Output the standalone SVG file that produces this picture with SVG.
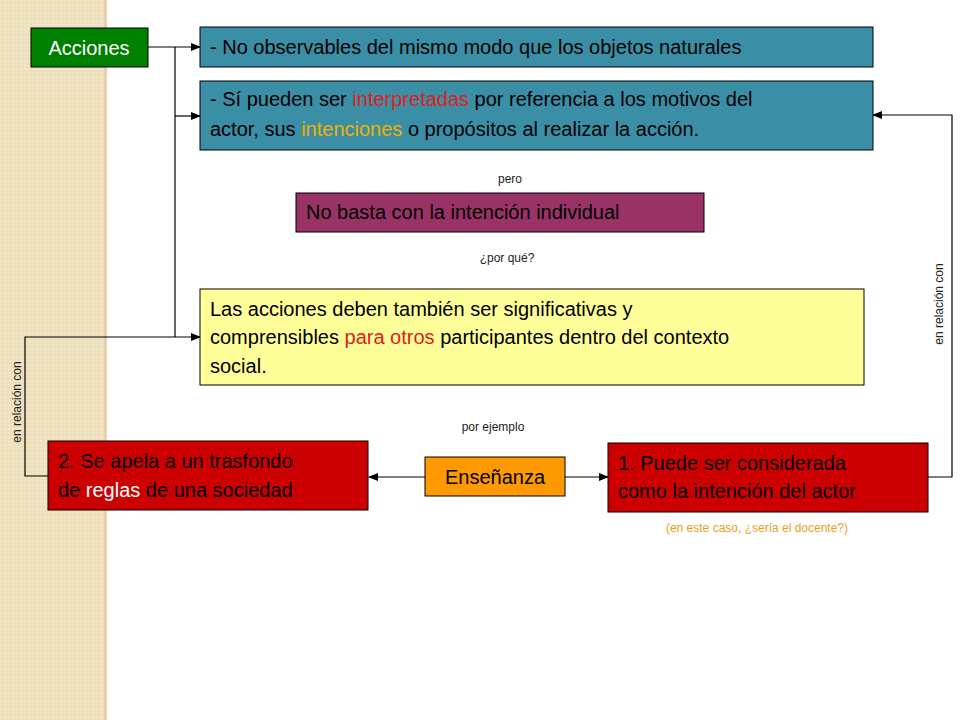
<svg xmlns="http://www.w3.org/2000/svg" width="960" height="720" viewBox="0 0 960 720">
<style>
text{font-family:"Liberation Sans",Arial,sans-serif;}
.big{font-size:20px;fill:#000;}
.sm{font-size:12px;fill:#222;}
.box{stroke:#000;stroke-width:1;}
.ln{fill:none;stroke:#000;stroke-width:1.2;}
</style>
<defs>
<marker id="ah" markerWidth="10" markerHeight="8" refX="9" refY="4" orient="auto" markerUnits="userSpaceOnUse"><path d="M0,0 L10,4 L0,8 z" fill="#000"/></marker>
<pattern id="tex" width="4" height="4" patternUnits="userSpaceOnUse"><rect width="4" height="4" fill="#eedfbd"/><rect width="2" height="2" fill="#f3e7ca"/></pattern>
</defs>
<rect width="960" height="720" fill="#fff"/>
<rect x="0" y="0" width="107" height="720" fill="url(#tex)"/>
<rect x="104" y="0" width="3" height="720" fill="#e3d2ad"/>
<g id="connectors">
<path class="ln" d="M148,47 H200" marker-end="url(#ah)"/>
<path class="ln" d="M175,47 V337"/>
<path class="ln" d="M175,116 H200" marker-end="url(#ah)"/>
<path class="ln" d="M48,476 H25 V337 H200" marker-end="url(#ah)"/>
<path class="ln" d="M928,477 H952 V115 H873" marker-end="url(#ah)"/>
<path class="ln" d="M425,477 H369" marker-end="url(#ah)"/>
<path class="ln" d="M565,477 H608" marker-end="url(#ah)"/>
</g>
<g id="acciones"><rect class="box" x="31" y="28" width="117" height="39" fill="#008000"/><text x="89" y="55" class="big" fill="#fff" style="fill:#fff" text-anchor="middle">Acciones</text></g>
<g id="noobs"><rect class="box" x="200" y="27" width="673" height="40" fill="#31849b" style="fill:#3a8ea5"/><text x="210" y="54" class="big">- No observables del mismo modo que los objetos naturales</text></g>
<g id="si"><rect class="box" x="200" y="81" width="673" height="69" fill="#3a8ea5"/>
<text x="210" y="106" class="big">- Sí pueden ser <tspan fill="#e02020">interpretadas</tspan> por referencia a los motivos del</text>
<text x="210" y="136" class="big">actor, sus <tspan fill="#f0b000">intenciones</tspan> o propósitos al realizar la acción.</text></g>
<text x="510" y="183" class="sm" text-anchor="middle">pero</text>
<g id="nobasta"><rect class="box" x="296" y="193" width="408" height="39" fill="#993366"/><text x="306" y="219" class="big">No basta con la intención individual</text></g>
<text x="507" y="262" class="sm" text-anchor="middle">¿por qué?</text>
<g id="las"><rect class="box" x="200" y="289" width="664" height="96" fill="#ffff99"/>
<text x="210" y="316" class="big">Las acciones deben también ser significativas y</text>
<text x="210" y="344" class="big">comprensibles <tspan fill="#e02020">para otros</tspan> participantes dentro del contexto</text>
<text x="210" y="373" class="big">social.</text></g>
<text x="493" y="431" class="sm" text-anchor="middle">por ejemplo</text>
<g id="dos"><rect class="box" x="48" y="441" width="320" height="69" fill="#cc0000"/>
<text x="58" y="468" class="big">2. Se apela a un trasfondo</text>
<text x="58" y="497" class="big">de <tspan fill="#fff">reglas</tspan> de una sociedad</text></g>
<g id="ens"><rect class="box" x="425" y="457" width="140" height="39" fill="#ff9900"/><text x="495" y="484" class="big" text-anchor="middle">Enseñanza</text></g>
<g id="uno"><rect class="box" x="608" y="443" width="320" height="69" fill="#cc0000"/>
<text x="618" y="470" class="big">1. Puede ser considerada</text>
<text x="618" y="498" class="big">como la intención del actor</text></g>
<text x="757" y="532" class="sm" text-anchor="middle" fill="#e8a020" style="fill:#e8a020">(en este caso, ¿sería el docente?)</text>
<text class="sm" transform="translate(21,402) rotate(-90)" text-anchor="middle">en relación con</text>
<text class="sm" transform="translate(943,304) rotate(-90)" text-anchor="middle">en relación con</text>
</svg>
